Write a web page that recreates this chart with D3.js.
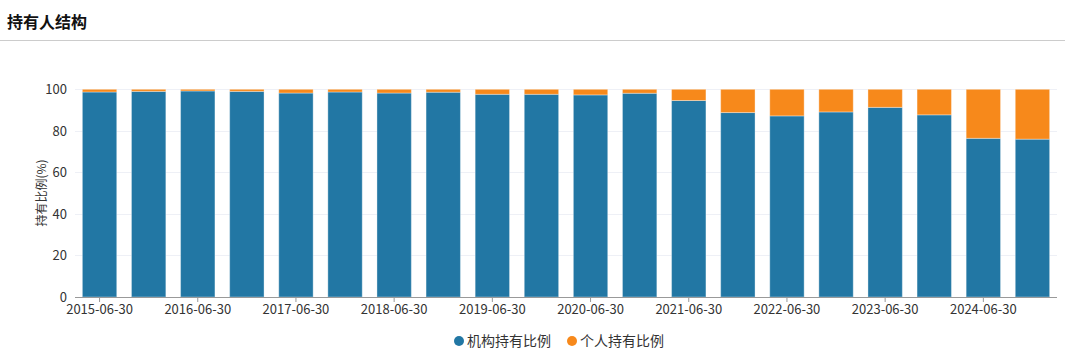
<!DOCTYPE html>
<html><head><meta charset="utf-8">
<script src="https://cdn.jsdelivr.net/npm/d3@7"></script>
<style>body{margin:0;background:#fff;font-family:"Microsoft YaHei","Noto Sans CJK SC",sans-serif;}</style>
</head><body><svg id="c" width="1065" height="358"></svg>
<script>
const categories = ["2015-06-30","2015-12-31","2016-06-30","2016-12-31","2017-06-30","2017-12-31","2018-06-30","2018-12-31","2019-06-30","2019-12-31","2020-06-30","2020-12-31","2021-06-30","2021-12-31","2022-06-30","2022-12-31","2023-06-30","2023-12-31","2024-06-30","2024-12-31"];
const institution = [98.7,99.0,99.2,99.0,98.2,98.7,98.2,98.6,97.6,97.6,97.3,98.1,94.6,88.8,87.2,89.1,91.3,87.7,76.4,76.0];
const individual = institution.map(v => +(100 - v).toFixed(1));
const yTicks = [0,20,40,60,80,100];
const seriesNames = ["机构持有比例","个人持有比例"];
const colors = ["#2277a4","#f7891b"];

const svg = d3.select("#c");
const font = '"Microsoft YaHei","Noto Sans CJK SC",sans-serif';
svg.append("text").attr("x",7).attr("y",28).attr("font-size",16).attr("font-weight","bold").attr("fill","#111").attr("font-family",font).text("持有人结构");
svg.append("line").attr("x1",0).attr("x2",1065).attr("y1",40.5).attr("y2",40.5).attr("stroke","#cccccc");

const m = {l:75,r:1057,t:89.3,b:297};
const x = d3.scaleBand().domain(categories).range([m.l,m.r]).paddingInner(0.3).paddingOuter(0.15);
const y = d3.scaleLinear().domain([0,100]).range([m.b,m.t]);

const g = svg.append("g");
g.selectAll(".grid").data(yTicks.filter(d=>d>0)).join("line")
 .attr("x1",m.l).attr("x2",m.r).attr("y1",d=>Math.round(y(d))+0.5).attr("y2",d=>Math.round(y(d))+0.5)
 .attr("stroke","#eef0f6");

const yAxis = g.append("g").attr("transform",`translate(${m.l},0)`).call(d3.axisLeft(y).tickValues(yTicks).tickSize(0).tickPadding(8));
yAxis.select(".domain").remove();
yAxis.selectAll("text").attr("font-size",13).attr("fill","#333").attr("font-family",font);

const stack = categories.map((c,i)=>({c, a:institution[i], b:individual[i]}));
g.selectAll(".b1").data(stack).join("rect")
 .attr("x",d=>x(d.c)).attr("width",x.bandwidth())
 .attr("y",d=>y(d.a)).attr("height",d=>y(0)-y(d.a))
 .attr("fill",colors[0]).attr("stroke","rgba(255,255,255,0.35)").attr("stroke-width",1);
g.selectAll(".b2").data(stack).join("rect")
 .attr("x",d=>x(d.c)).attr("width",x.bandwidth())
 .attr("y",d=>y(100)).attr("height",d=>y(d.a)-y(100))
 .attr("fill",colors[1]).attr("stroke","rgba(255,255,255,0.35)").attr("stroke-width",1);

const xAxis = g.append("g").attr("transform",`translate(0,${m.b})`)
 .call(d3.axisBottom(x).tickValues(categories.filter((d,i)=>i%2===0)).tickSize(5).tickPadding(3));
xAxis.select(".domain").attr("stroke","#999").attr("d",`M${m.l},0.5H${m.r}`);
xAxis.selectAll(".tick line").attr("stroke","#999");
xAxis.selectAll("text").attr("font-size",13).attr("fill","#333").attr("font-family",font);

svg.append("text").attr("transform","translate(46,193) rotate(-90)").attr("text-anchor","middle")
 .attr("font-size",12).attr("fill","#333").attr("font-family",font).text("持有比例(%)");

const lg = svg.append("g");
const items = [{n:seriesNames[0],c:colors[0],x:459},{n:seriesNames[1],c:colors[1],x:572}];
items.forEach(it=>{
  lg.append("circle").attr("cx",it.x).attr("cy",341).attr("r",5).attr("fill",it.c);
  lg.append("text").attr("x",it.x+8).attr("y",346).attr("font-size",14).attr("fill","#333").attr("font-family",font).text(it.n);
});
</script></body></html>
